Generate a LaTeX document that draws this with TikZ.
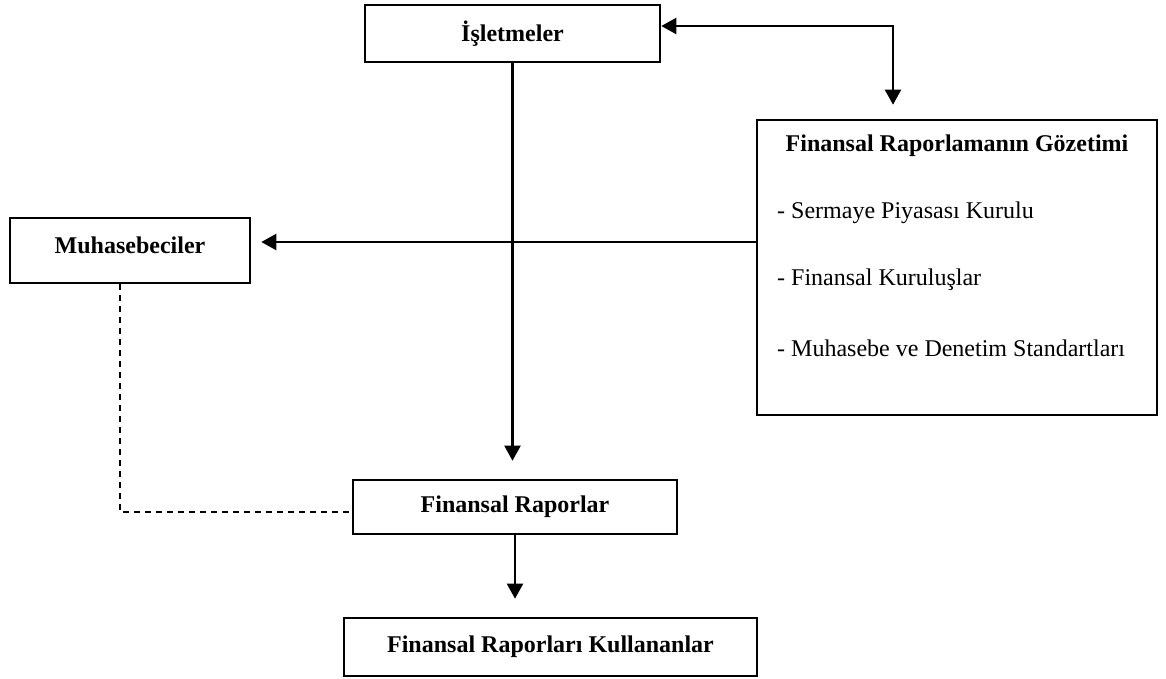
\documentclass[tikz,border=0pt]{standalone}
\usepackage{fontspec}
\setmainfont{Liberation Serif}
\usetikzlibrary{arrows.meta,calc}
\begin{document}
\begin{tikzpicture}[x=1pt,y=-1pt,
  box/.style={draw,line width=2.6pt,rectangle,inner sep=0pt,font=\fontsize{24}{28}\selectfont\bfseries},
  conn/.style={line width=2.1pt},
  tip/.style={conn,-{Triangle[length=15pt,width=16pt]}},
  both/.style={conn,{Triangle[length=15pt,width=16pt]}-{Triangle[length=15pt,width=16pt]}},
  item/.style={anchor=west,inner sep=0pt,font=\fontsize{24}{28}\selectfont},
  title/.style={inner sep=0pt,font=\fontsize{24}{28}\selectfont\bfseries}]
\useasboundingbox (0,0) rectangle (1166,679);

% boxes
\node[box,minimum width=295pt,minimum height=57pt] (isl) at (512.5,33.5) {İşletmeler};
\node[box,minimum width=400pt,minimum height=295pt] (goz) at (957,267.5) {};
\node[box,minimum width=240pt,minimum height=65pt] (muh) at (130,250.5) {};
\node[title] (muht) at (130,245) {Muhasebeciler};
\node[box,minimum width=324pt,minimum height=54pt] (fr) at (515,507) {Finansal Raporlar};
\node[box,minimum width=413pt,minimum height=58pt] (kul) at (550.5,647) {Finansal Raporları Kullananlar};

% contents of the oversight box
\node[title] (gozt) at (957,146) {Finansal Raporlamanın Gözetimi};
\node[item] (g1) at (777,213) {- Sermaye Piyasası Kurulu};
\node[item] (g2) at (777,280) {- Finansal Kuruluşlar};
\node[item] (g3) at (777,348) {- Muhasebe ve Denetim Standartları};

% helper points for bends
\coordinate (corner) at (893,26);
\coordinate (hline) at (0,242);
\coordinate (dcorner) at (120,512);

% connectors
\draw[tip,shorten >=18pt] (isl.south) -- (isl.south |- fr.north);
\draw[both,shorten >=14pt] (isl.east |- corner) -- (corner) -- (corner |- goz.north);
\draw[tip,shorten >=10pt] (goz.west |- hline) -- (muh.east |- hline);
\draw[conn,dashed,dash pattern=on 6pt off 5pt] (muh.south -| dcorner) -- (dcorner) -- (fr.west |- dcorner);
\draw[tip,shorten >=18pt] (fr.south) -- (fr.south |- kul.north);
\end{tikzpicture}
\end{document}
